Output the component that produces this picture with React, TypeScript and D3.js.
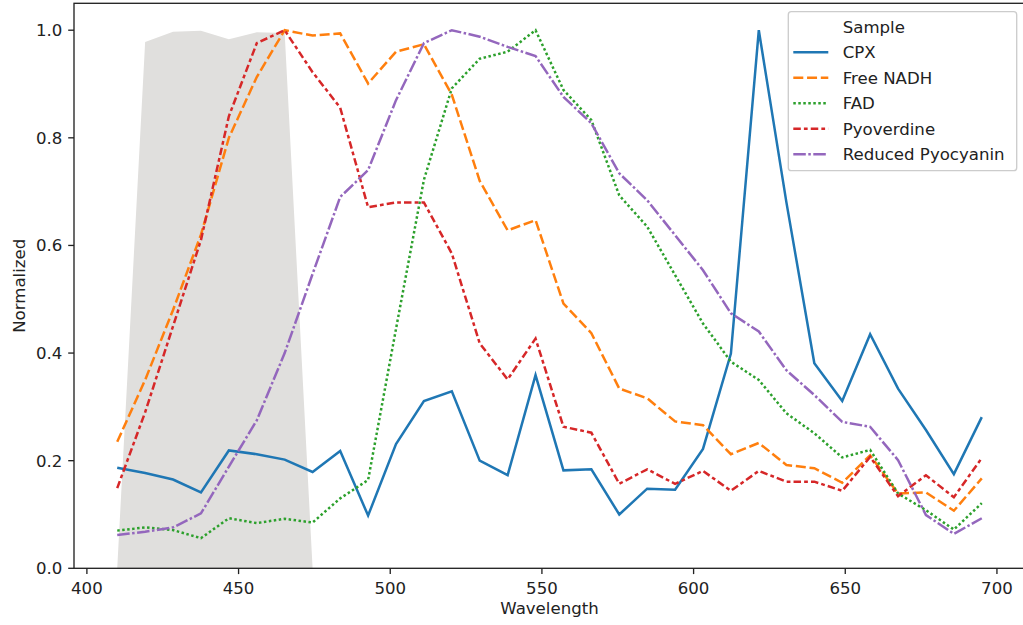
import React from "react";
import * as d3 from "d3";

// Data
const wavelengths = [
  410, 419.2, 428.4, 437.6, 446.8, 456, 465.2, 474.4, 483.5, 492.7, 501.9,
  511.1, 520.3, 529.5, 538.7, 547.9, 557.1, 566.3, 575.5, 584.7, 593.9, 603.1,
  612.3, 621.5, 630.6, 639.8, 649, 658.2, 667.4, 676.6, 685.8, 695,
];

const cpx = [
  0.187, 0.177, 0.165, 0.141, 0.219, 0.212, 0.202, 0.179, 0.218, 0.098, 0.231,
  0.311, 0.329, 0.2, 0.173, 0.359, 0.182, 0.184, 0.1, 0.148, 0.146, 0.222,
  0.399, 1.0, 0.68, 0.381, 0.311, 0.435, 0.334, 0.257, 0.175, 0.281,
];
const freeNadh = [
  0.235, 0.35, 0.48, 0.62, 0.8, 0.913, 1.0, 0.99, 0.994, 0.901, 0.96, 0.974,
  0.88, 0.72, 0.628, 0.647, 0.492, 0.437, 0.334, 0.316, 0.273, 0.266, 0.212,
  0.233, 0.192, 0.186, 0.159, 0.21, 0.139, 0.141, 0.107, 0.167,
];
const fad = [
  0.07, 0.076, 0.071, 0.056, 0.093, 0.084, 0.092, 0.085, 0.13, 0.164, 0.445,
  0.722, 0.892, 0.947, 0.96, 1.0, 0.889, 0.833, 0.693, 0.635, 0.545, 0.455,
  0.384, 0.35, 0.288, 0.251, 0.206, 0.22, 0.139, 0.108, 0.072, 0.121,
];
const pyoverdine = [
  0.149, 0.29, 0.45, 0.61, 0.84, 0.976, 1.0, 0.922, 0.856, 0.671, 0.68, 0.68,
  0.585, 0.418, 0.351, 0.427, 0.263, 0.252, 0.157, 0.184, 0.157, 0.181, 0.144,
  0.181, 0.161, 0.161, 0.144, 0.207, 0.134, 0.173, 0.132, 0.205,
];
const reducedPyocyanin = [
  0.062, 0.068, 0.076, 0.102, 0.189, 0.275, 0.4, 0.547, 0.69, 0.74, 0.87,
  0.976, 1.0, 0.988, 0.969, 0.952, 0.876, 0.827, 0.734, 0.684, 0.619, 0.554,
  0.474, 0.44, 0.368, 0.322, 0.272, 0.263, 0.201, 0.099, 0.064, 0.093,
];

// grey excitation band
const filterWavelengths = [410, 419.2, 428.4, 437.6, 446.8, 456, 465.2, 474.4];
const filterValues = [0, 0.978, 0.997, 0.999, 0.983, 0.996, 0.995, 0];

const xTicks = [400, 450, 500, 550, 600, 650, 700];
const yTicks = [0, 0.2, 0.4, 0.6, 0.8, 1.0];

const series = [
  { name: "CPX", values: cpx, color: "#1f77b4", dash: "" },
  { name: "Free NADH", values: freeNadh, color: "#ff7f0e", dash: "10 3.75" },
  { name: "FAD", values: fad, color: "#2ca02c", dash: "2.5 2.5" },
  { name: "Pyoverdine", values: pyoverdine, color: "#d62728", dash: "7.5 3.1 3.75 3.1" },
  { name: "Reduced Pyocyanin", values: reducedPyocyanin, color: "#9467bd", dash: "12.5 2.5 2.5 2.5" },
];

const W = 1023;
const H = 625;
const left = 74;
const right = 1025;
const top = 3.3;
const bottom = 568.3;
const font = "DejaVu Sans, sans-serif";
const fs = 16.6;

export default function App() {
  const x = d3.scaleLinear().domain([395.75, 709.25]).range([left, right]);
  const y = d3.scaleLinear().domain([0, 1.05]).range([bottom, top]);

  const line = d3
    .line<number>()
    .x((_, i) => x(wavelengths[i]))
    .y((d) => y(d));

  const area = d3
    .area<number>()
    .x((_, i) => x(filterWavelengths[i]))
    .y0(y(0))
    .y1((d) => y(d));

  const legendX = 788.3;
  const legendY = 11.7;
  const rowH = 25.5;

  return (
    <svg
      width={W}
      height={H}
      style={{ position: "absolute", left: 0, top: 0, background: "#fff" }}
      fontFamily={font}
    >
      <defs>
        <clipPath id="plot">
          <rect x={left} y={top} width={right - left} height={bottom - top} />
        </clipPath>
      </defs>

      <g clipPath="url(#plot)">
        <path d={area(filterValues) ?? ""} fill="#e0dfdd" />
        {series.map((s) => (
          <path
            key={s.name}
            d={line(s.values) ?? ""}
            fill="none"
            stroke={s.color}
            strokeWidth={2.5}
            strokeDasharray={s.dash || undefined}
          />
        ))}
      </g>

      {/* spines */}
      <rect
        x={left}
        y={top}
        width={right - left}
        height={bottom - top}
        fill="none"
        stroke="#222"
        strokeWidth={1.33}
      />

      {/* x axis */}
      {xTicks.map((t) => (
        <g key={t} transform={`translate(${x(t)},${bottom})`}>
          <line y2={5.8} stroke="#222" strokeWidth={1.33} />
          <text y={26} textAnchor="middle" fontSize={fs} fill="#222">
            {t}
          </text>
        </g>
      ))}
      <text
        x={(left + right) / 2}
        y={614}
        textAnchor="middle"
        fontSize={fs}
        fill="#222"
      >
        Wavelength
      </text>

      {/* y axis */}
      {yTicks.map((t) => (
        <g key={t} transform={`translate(${left},${y(t)})`}>
          <line x2={-5.8} stroke="#222" strokeWidth={1.33} />
          <text x={-11.6} y={6} textAnchor="end" fontSize={fs} fill="#222">
            {t.toFixed(1)}
          </text>
        </g>
      ))}
      <text
        transform={`translate(25,${(top + bottom) / 2}) rotate(-90)`}
        textAnchor="middle"
        fontSize={fs}
        fill="#222"
      >
        Normalized
      </text>

      {/* legend */}
      <rect
        x={legendX}
        y={legendY}
        width={228.4}
        height={159}
        rx={3}
        fill="#fff"
        fillOpacity={0.8}
        stroke="#cccccc"
        strokeWidth={1.33}
      />
      <text x={842.7} y={legendY + 15 + 6} fontSize={fs} fill="#222">
        Sample
      </text>
      {series.map((s, i) => {
        const cy = legendY + 15 + rowH * (i + 1);
        return (
          <g key={s.name}>
            <line
              x1={793.3}
              x2={828.3}
              y1={cy}
              y2={cy}
              stroke={s.color}
              strokeWidth={2.5}
              strokeDasharray={s.dash || undefined}
            />
            <text x={842.7} y={cy + 6} fontSize={fs} fill="#222">
              {s.name}
            </text>
          </g>
        );
      })}
    </svg>
  );
}
